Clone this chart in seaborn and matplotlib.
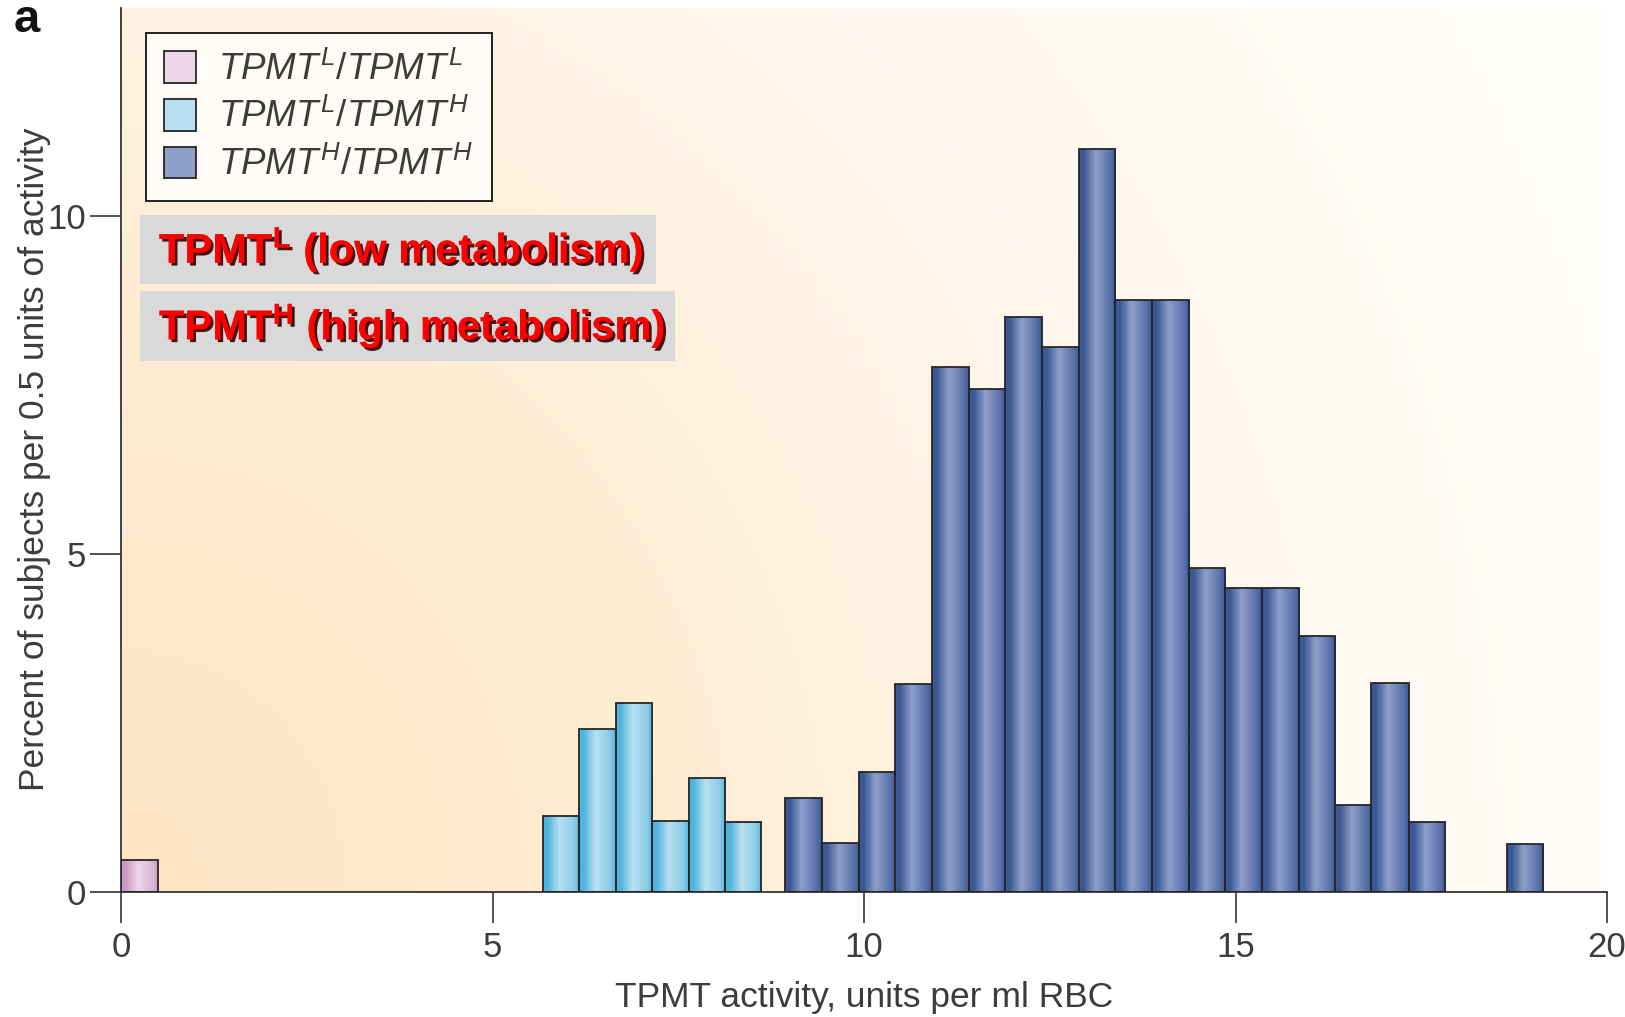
import numpy as np
import pandas as pd
import seaborn as sns
import matplotlib.pyplot as plt
import matplotlib.patheffects as pe
from matplotlib.patches import Patch, Rectangle
from matplotlib.colors import LinearSegmentedColormap

# bins (left edges, units per ml RBC) and bar heights (%)
ll_edges = [0.0, 0.5]
ll_heights = [0.47]

lh_edges = [5.68, 6.17, 6.66, 7.15, 7.64, 8.13, 8.62]
lh_heights = [1.12, 2.41, 2.79, 1.05, 1.68, 1.03]

hh_edges = [8.94, 9.43, 9.93, 10.42, 10.91, 11.41, 11.90, 12.39, 12.89, 13.38,
            13.87, 14.37, 14.86, 15.35, 15.85, 16.34, 16.83, 17.33, 17.82]
hh_heights = [1.39, 0.72, 1.77, 3.07, 7.76, 7.44, 8.50, 8.06, 10.99, 8.76,
              8.76, 4.79, 4.49, 4.49, 3.79, 1.29, 3.09, 1.03]
hh_far_edges = [18.65, 19.14]
hh_far_heights = [0.715]

labels = [r'$TPMT^{L}/TPMT^{L}$', r'$TPMT^{L}/TPMT^{H}$', r'$TPMT^{H}/TPMT^{H}$']
xticks = [0, 5, 10, 15, 20]
yticks = [0, 5, 10]

# (dark side, light centre, right side) for the shaded bars
shades = {
    'LL': ('#c79bc0', '#ecd6e8', '#d8b6d2'),
    'LH': ('#4fb4dd', '#b8e0f1', '#8ccbe6'),
    'HH': ('#3b5894', '#8e9fca', '#5a72aa'),
}

W, H = 1625, 1017
sns.set_theme(style='white')
plt.rcParams['font.family'] = ['Liberation Sans', 'DejaVu Sans']
plt.rcParams['mathtext.fontset'] = 'custom'
plt.rcParams['mathtext.it'] = 'Liberation Sans:italic'
plt.rcParams['mathtext.rm'] = 'Liberation Sans'
plt.rcParams['mathtext.bf'] = 'Liberation Sans:bold'

fig = plt.figure(figsize=(W / 100, H / 100), dpi=100)
x_right = 121 + 74.3 * 20
ax = fig.add_axes([121 / W, 1 - 892 / H, (x_right - 121) / W, (892 - 8) / H])
ax.set_facecolor('none')

# peach -> white background
gx = np.linspace(0, 1, 300)
gy = np.linspace(0, 1, 200)
X, Y = np.meshgrid(gx, gy)
r = np.sqrt((X * 1.0) ** 2 + ((1 - Y) * 0.55) ** 2)
bg = np.clip(r / 1.05, 0, 1)
bg_cmap = LinearSegmentedColormap.from_list('bg', ['#fde5c5', '#feecd2', '#fff7ec', '#fffdfa'])
ax.imshow(bg, extent=(0, 20, 0, 13.07), origin='upper', cmap=bg_cmap,
          aspect='auto', zorder=0, interpolation='bicubic')


def draw_group(edges, heights, key):
    lefts = edges[:-1]
    df = pd.DataFrame({'x': [l + 0.01 for l in lefts], 'w': heights})
    n0 = len(ax.patches)
    sns.histplot(data=df, x='x', weights='w', bins=edges, ax=ax, stat='count',
                 element='bars', fill=True, color=shades[key][1],
                 edgecolor='#262626', linewidth=1.3, alpha=1, zorder=3)
    cmap = LinearSegmentedColormap.from_list(
        key, [(0, shades[key][0]), (0.12, shades[key][0]), (0.45, shades[key][1]),
              (0.85, shades[key][2]), (1, shades[key][0])])
    grad = np.linspace(0, 1, 64)[None, :]
    for p in ax.patches[n0:]:
        if p.get_height() <= 0:
            p.set_visible(False)
            continue
        x0, y0 = p.get_x(), p.get_y()
        im = ax.imshow(grad, extent=(x0, x0 + p.get_width(), y0, y0 + p.get_height()),
                       cmap=cmap, aspect='auto', zorder=2.5)
        im.set_clip_path(p)
        p.set_facecolor('none')


draw_group(ll_edges, ll_heights, 'LL')
draw_group(lh_edges, lh_heights, 'LH')
draw_group(hh_edges, hh_heights, 'HH')
draw_group(hh_far_edges, hh_far_heights, 'HH')

ax.set_xlim(0, 20)
ax.set_ylim(0, 13.07)
ax.set_xticks(xticks)
ax.set_yticks(yticks)
ax.set_xticklabels([str(t) for t in xticks])
ax.set_yticklabels([str(t) for t in yticks])
txt = '#3c3c3c'
ax.tick_params(axis='both', direction='out', length=22, width=1.2, color='#333333',
               labelsize=25, labelcolor=txt, bottom=True, left=True, pad=6)
ax.tick_params(axis='y', pad=3)
for s in ['top', 'right']:
    ax.spines[s].set_visible(False)
for s in ['left', 'bottom']:
    ax.spines[s].set_color('#333333')
    ax.spines[s].set_linewidth(1.3)
ax.set_xlabel('TPMT activity, units per ml RBC', fontsize=25.5, color=txt, labelpad=12)
ax.set_ylabel('Percent of subjects per 0.5 units of activity', fontsize=25.5, color=txt)
ax.yaxis.set_label_coords(-0.047, 0.49)

# legend
handles = [Patch(facecolor=shades[k][1], edgecolor='#262626', linewidth=1.3)
           for k in ['LL', 'LH', 'HH']]
leg = ax.legend(handles, labels, loc='upper left', bbox_to_anchor=(146 / W, 1 - 33 / H),
                bbox_transform=fig.transFigure, borderaxespad=0, fontsize=26.5,
                frameon=True, fancybox=False, edgecolor='#222222', facecolor='#fffcf7',
                framealpha=1, handlelength=0.85, handleheight=0.95, handletextpad=0.6,
                labelspacing=0.3, borderpad=0.5)
leg.get_frame().set_linewidth(1.4)
for t in leg.get_texts():
    t.set_color(txt)

# highlighted notes
for (x0, y0, x1, y1), s in [((140, 215, 656, 284), r'TPMT$^{\mathbf{L}}$ (low metabolism)'),
                            ((140, 291, 675, 361), r'TPMT$^{\mathbf{H}}$ (high metabolism)')]:
    fig.patches.append(Rectangle((x0 / W, 1 - y1 / H), (x1 - x0) / W, (y1 - y0) / H,
                                 transform=fig.transFigure, facecolor='#d9d9d9',
                                 edgecolor='none', zorder=5))
    fig.text((x0 + 19) / W, 1 - (y0 + y1) / 2 / H, s, fontsize=30, fontweight='bold',
             color='#ff0000', va='center', ha='left', zorder=6,
             path_effects=[pe.withSimplePatchShadow(offset=(2, -2), shadow_rgbFace='#300000',
                                                    alpha=0.9), pe.Normal()])

fig.text(14 / W, 1 - 20 / H, 'a', fontsize=34, fontweight='bold', color='#111111',
         va='center', ha='left')

fig.savefig('out.png', dpi=100)
